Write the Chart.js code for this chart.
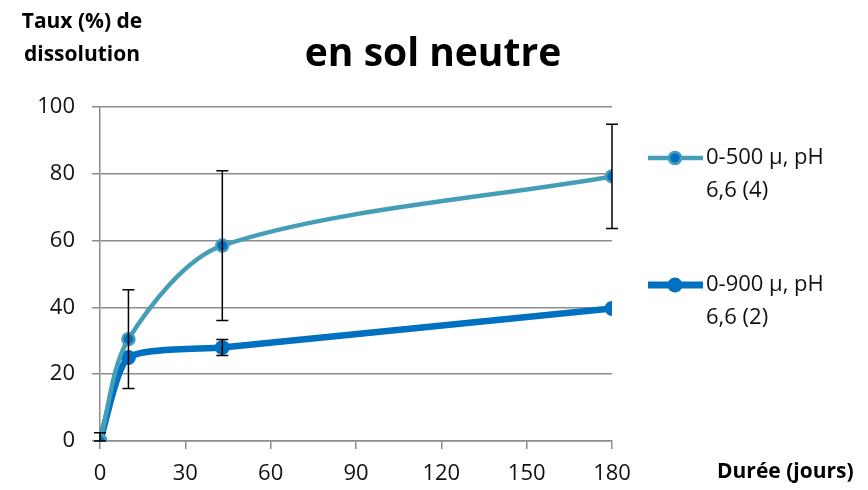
<!DOCTYPE html>
<html lang="fr">
<head>
<meta charset="UTF-8">
<title>en sol neutre</title>
<script src="https://cdn.jsdelivr.net/npm/chart.js"></script>
<style>
  body { margin: 0; background: #fff; }
  #wrap { width: 868px; height: 490px; }
</style>
</head>
<body>
<div id="wrap"><canvas id="grafico" width="868" height="490"></canvas></div>
<script>
// donnees
const jours = [0, 10, 43, 180];
const serie500 = [0, 30.5, 58.5, 79.2];
const erreur500 = [2.5, 14.8, 22.4, 15.6];
const serie900 = [0, 25, 28, 39.7];
const erreur900 = [0, 0, 2.4, 0];
const nomsSeries = [["0-500 µ, pH", "6,6 (4)"], ["0-900 µ, pH", "6,6 (2)"]];
const ticksX = [0, 30, 60, 90, 120, 150, 180];

const police = "'Open Sans', 'DejaVu Sans', sans-serif";
const teal = '#459eb8';
const bleu = '#0070c0';

// barres d'erreur + textes hors zone
const extras = {
  id: 'extras',
  afterDatasetsDraw(chart) {
    const c = chart.ctx;
    const x = chart.scales.x, y = chart.scales.y;
    c.save();
    c.strokeStyle = '#000';
    c.lineWidth = 1.5;
    const barres = [[serie500, erreur500], [serie900, erreur900]];
    barres.forEach(([vals, errs]) => {
      vals.forEach((v, i) => {
        if (!errs[i]) return;
        const px = x.getPixelForValue(jours[i]);
        const y1 = y.getPixelForValue(v + errs[i]);
        const y2 = y.getPixelForValue(Math.max(0, v - errs[i]));
        c.beginPath();
        c.moveTo(px, y1); c.lineTo(px, y2);
        c.moveTo(px - 6, y1); c.lineTo(px + 6, y1);
        c.moveTo(px - 6, y2); c.lineTo(px + 6, y2);
        c.stroke();
      });
    });
    c.restore();
  },
  afterDraw(chart) {
    const c = chart.ctx;
    c.save();
    c.fillStyle = '#000';
    c.textBaseline = 'middle';
    c.font = 'bold 39px ' + police;
    c.textAlign = 'center';
    c.fillText('en sol neutre', 433, 55);
    c.font = 'bold 21px ' + police;
    c.fillText('Taux (%) de', 82, 22);
    c.fillText('dissolution', 82, 55);
    c.textAlign = 'left';
    c.fillText('Durée (jours)', 717, 472);
    // legende
    const items = [[teal, bleu, 4.5, 6, 158], [bleu, bleu, 7, 7.5, 285]];
    items.forEach(([ligne, point, lw, r, ly], k) => {
      c.strokeStyle = ligne;
      c.lineWidth = lw;
      c.beginPath();
      c.moveTo(648, ly); c.lineTo(703, ly);
      c.stroke();
      c.beginPath();
      c.arc(675, ly, r, 0, Math.PI * 2);
      c.fillStyle = point;
      c.fill();
      if (ligne !== point) { c.lineWidth = 2.5; c.strokeStyle = ligne; c.stroke(); }
      c.fillStyle = '#111';
      c.font = '22px ' + police;
      c.fillText(nomsSeries[k][0], 706, ly);
      c.fillText(nomsSeries[k][1], 706, ly + 33);
    });
    c.restore();
  }
};

new Chart(document.getElementById('grafico'), {
  type: 'line',
  data: {
    datasets: [{
      label: nomsSeries[0].join(' '),
      data: jours.map((j, i) => ({ x: j, y: serie500[i] })),
      borderColor: teal,
      borderWidth: 4.5,
      pointRadius: 6,
      pointBorderWidth: 2.5,
      pointBackgroundColor: bleu,
      pointBorderColor: teal,
      tension: 0.3
    }, {
      label: nomsSeries[1].join(' '),
      data: jours.map((j, i) => ({ x: j, y: serie900[i] })),
      borderColor: bleu,
      borderWidth: 6.5,
      pointRadius: 7.5,
      pointBorderWidth: 0,
      pointBackgroundColor: bleu,
      tension: 0.2
    }]
  },
  options: {
    responsive: false,
    animation: false,
    layout: { padding: { top: 107, right: 256, left: 0, bottom: 0 } },
    plugins: {
      legend: { display: false },
      title: { display: false },
      tooltip: { enabled: false }
    },
    scales: {
      x: {
        type: 'linear',
        min: 0, max: 180,
        afterBuildTicks: s => { s.ticks = ticksX.map(v => ({ value: v })); },
        afterFit: s => { s.height = 49; },
        grid: { drawOnChartArea: false, drawTicks: true, tickLength: 8, color: '#8c8c8c', lineWidth: 1.5 },
        border: { color: '#8c8c8c', width: 1.5 },
        ticks: { font: { size: 22, family: police }, color: '#111', padding: 12, maxRotation: 0 }
      },
      y: {
        min: 0, max: 100,
        afterFit: s => { s.width = 100; },
        grid: { color: '#8c8c8c', lineWidth: 1.5, tickLength: 8 },
        border: { color: '#8c8c8c', width: 1.5 },
        ticks: { stepSize: 20, font: { size: 22, family: police }, color: '#111', padding: 17 }
      }
    }
  },
  plugins: [extras]
});
</script>
</body>
</html>
